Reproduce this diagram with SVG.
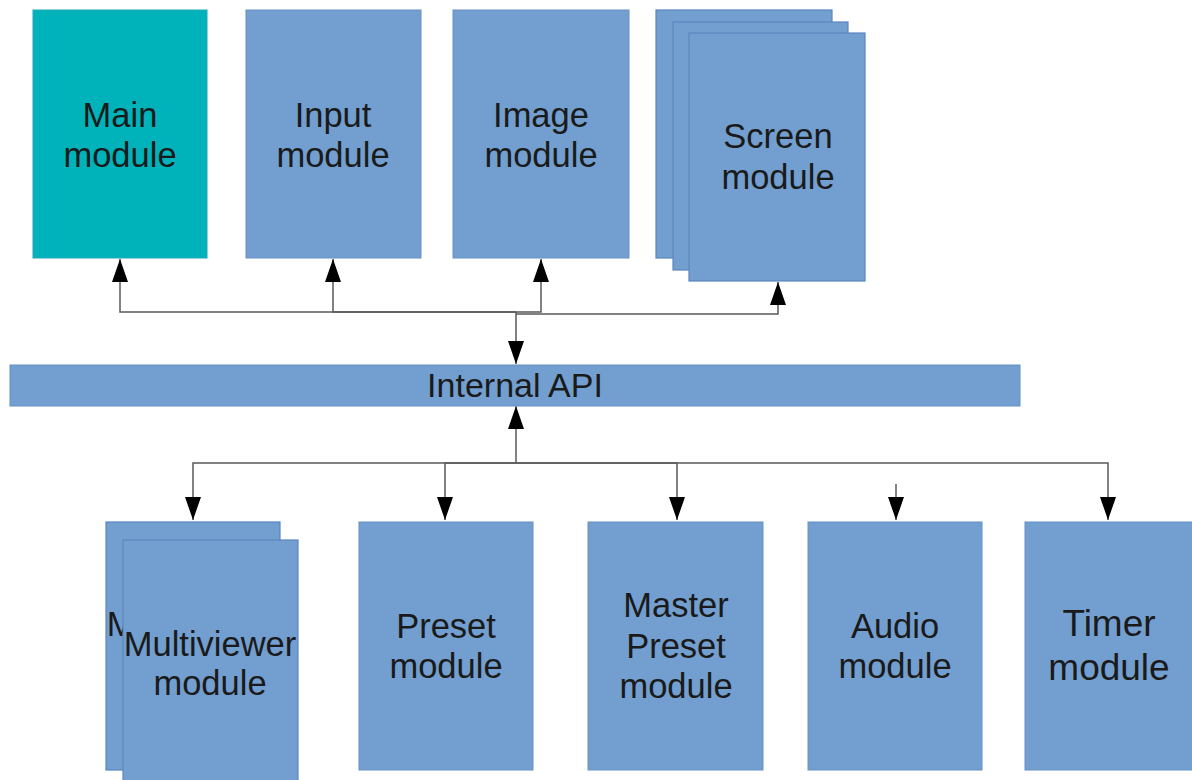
<svg xmlns="http://www.w3.org/2000/svg" width="1192" height="780" viewBox="0 0 1192 780">
<style>
.box{fill:#729fcf;stroke:#6690c6;stroke-width:1}
.stk{fill:#729fcf;stroke:#5a86bf;stroke-width:1.2}
.main{fill:#00b3ba;stroke:#22a7b8;stroke-width:1}
.t{font-family:"Liberation Sans",Arial,sans-serif;font-size:34.5px;fill:#1a1a1a;text-anchor:middle}
.big{font-size:37px}
.api{font-size:34px}
.c{fill:none;stroke:#5a5a5a;stroke-width:1.5;marker-end:url(#arr)}
</style>
<defs>
<marker id="arr" viewBox="0 0 23 16" refX="23" refY="8" markerWidth="23" markerHeight="16" orient="auto" markerUnits="userSpaceOnUse"><path d="M0,0 L23,8 L0,16 z" fill="#000"/></marker>
</defs>
<rect width="1192" height="780" fill="#fff"/>
<g id="connectors">
<path class="c" d="M516,312 H120 V259"/>
<path class="c" d="M516,312 H333 V259"/>
<path class="c" d="M516,312 H541 V259"/>
<path class="c" d="M516,314 H778 V282"/>
<path class="c" d="M516,312 V364"/>
<path class="c" d="M516,463 V406"/>
<path class="c" d="M516,463 H193 V520"/>
<path class="c" d="M516,463 H445 V520"/>
<path class="c" d="M516,463 H677 V520"/>
<path class="c" d="M896,484 V520"/>
<path class="c" d="M516,463 H1108 V520"/>
</g>
<g id="main-module">
<rect class="main" x="33" y="10" width="174" height="248"/>
<text class="t" x="120" y="127">Main</text>
<text class="t" x="120" y="167">module</text>
</g>
<g id="input-module">
<rect class="box" x="246" y="10" width="175" height="248"/>
<text class="t" x="333" y="127">Input</text>
<text class="t" x="333" y="167">module</text>
</g>
<g id="image-module">
<rect class="box" x="453" y="10" width="176" height="248"/>
<text class="t" x="541" y="127">Image</text>
<text class="t" x="541" y="167">module</text>
</g>
<g id="screen-module">
<rect class="stk" x="656" y="10" width="176" height="248"/>
<rect class="stk" x="673" y="22" width="175" height="248"/>
<rect class="stk" x="689" y="33" width="176" height="248"/>
<text class="t" x="778" y="148">Screen</text>
<text class="t" x="778" y="189">module</text>
</g>
<g id="internal-api">
<rect class="box" x="10" y="365" width="1010" height="41"/>
<text class="t api" x="515" y="397">Internal API</text>
</g>
<g id="multiviewer-module">
<rect class="stk" x="106" y="522" width="174" height="248"/>
<text class="t" x="193" y="636">Multiviewer</text>
<text class="t" x="193" y="676">module</text>
<rect class="stk" x="123" y="540" width="175" height="248"/>
<text class="t" x="210" y="656">Multiviewer</text>
<text class="t" x="210" y="695">module</text>
</g>
<g id="preset-module">
<rect class="box" x="359" y="522" width="174" height="248"/>
<text class="t" x="446" y="638">Preset</text>
<text class="t" x="446" y="678">module</text>
</g>
<g id="master-preset-module">
<rect class="box" x="588" y="522" width="175" height="248"/>
<text class="t" x="676" y="617">Master</text>
<text class="t" x="676" y="658">Preset</text>
<text class="t" x="676" y="698">module</text>
</g>
<g id="audio-module">
<rect class="box" x="808" y="522" width="174" height="248"/>
<text class="t" x="895" y="638">Audio</text>
<text class="t" x="895" y="678">module</text>
</g>
<g id="timer-module">
<rect class="box" x="1025" y="522" width="175" height="248"/>
<text class="t big" x="1109" y="636">Timer</text>
<text class="t big" x="1109" y="680">module</text>
</g>
</svg>
